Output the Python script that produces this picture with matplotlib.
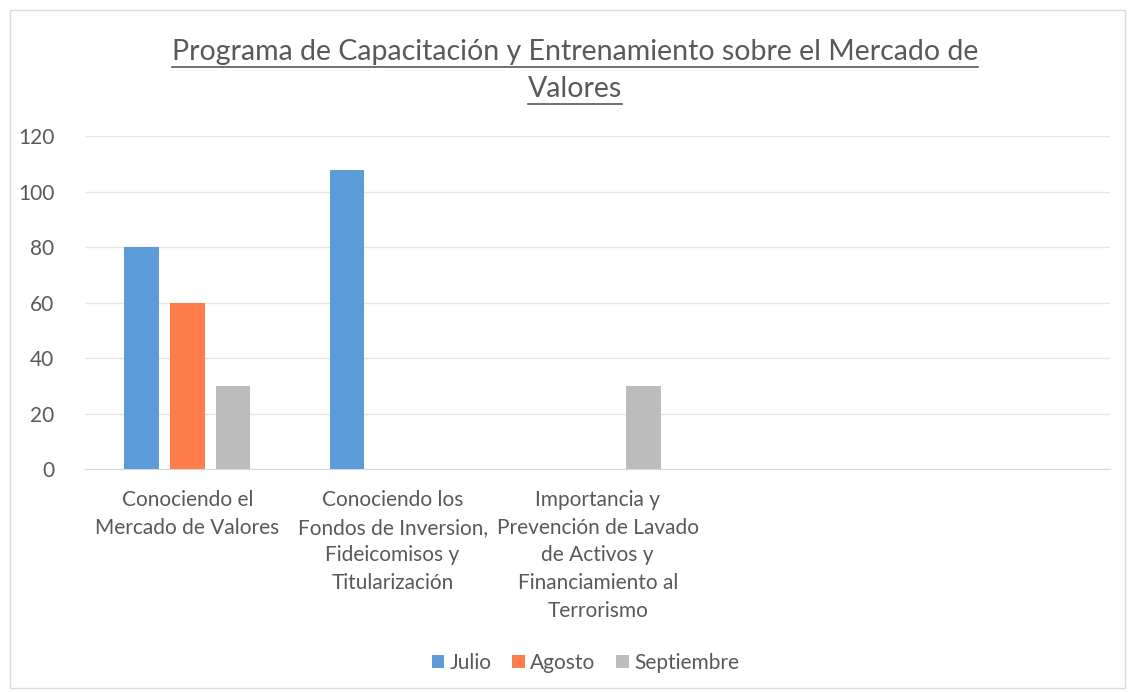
import matplotlib
matplotlib.use("Agg")
import matplotlib.pyplot as plt
import numpy as np
from matplotlib.lines import Line2D
from matplotlib.patches import Rectangle

plt.rcParams["font.family"] = ["Lato", "DejaVu Sans"]

# datos del gráfico
categorias = [
    "Conociendo el\nMercado de Valores",
    "Conociendo los\nFondos de Inversion,\nFideicomisos y\nTitularización",
    "Importancia y\nPrevención de Lavado\nde Activos y\nFinanciamiento al\nTerrorismo",
    "",
    "",
]
series = ["Julio", "Agosto", "Septiembre"]
julio = [80, 108, 0, 0, 0]
agosto = [60, 0, 0, 0, 0]
septiembre = [30, 0, 30, 0, 0]
yticks = [0, 20, 40, 60, 80, 100, 120]

colores = ["#5A9BD8", "#FF7D4D", "#BCBCBC"]
texto = "#595959"

fig = plt.figure(figsize=(11.32, 6.92), dpi=100)
ax = fig.add_axes([0.075, 0.322, 0.906, 0.481])

x = np.arange(len(categorias))
ancho = 0.17
paso = 0.222
for i, (nombre, valores) in enumerate(zip(series, [julio, agosto, septiembre])):
    ax.bar(x + (i - 1) * paso, valores, width=ancho, color=colores[i], label=nombre, zorder=3)

ax.set_xlim(-0.5, len(categorias) - 0.5)
ax.set_ylim(0, 120)
ax.set_yticks(yticks)
ax.set_xticks(x)
ax.set_xticklabels(categorias, fontsize=15, color=texto, linespacing=1.48)
ax.tick_params(axis="y", labelsize=15, labelcolor=texto, length=0, pad=22)
ax.tick_params(axis="x", length=0, pad=15)
ax.grid(axis="y", color="#E6E6E6", linewidth=1, zorder=0)
for s in ["top", "right", "left"]:
    ax.spines[s].set_visible(False)
ax.spines["bottom"].set_color("#D9D9D9")

# leyenda abajo
ax.legend(
    loc="center", bbox_to_anchor=(0.488, -0.583), ncol=3, frameon=False,
    fontsize=15, labelcolor=texto, handlelength=0.6, handleheight=0.6,
    handletextpad=0.25, columnspacing=1.0,
)

# título subrayado, dos líneas
t1 = fig.text(0.508, 0.925, "Programa de Capacitación y Entrenamiento sobre el Mercado de",
              ha="center", va="center", fontsize=20.5, color=texto)
t2 = fig.text(0.508, 0.872, "Valores", ha="center", va="center", fontsize=20.5, color=texto)
fig.canvas.draw()
inv = fig.transFigure.inverted()
for t in (t1, t2):
    bb = t.get_window_extent().transformed(inv)
    yline = bb.y0 - 0.003
    fig.add_artist(Line2D([bb.x0, bb.x1], [yline, yline], transform=fig.transFigure,
                          color=texto, linewidth=1.2))

# borde exterior
fig.add_artist(Rectangle((0.009, 0.006), 0.985, 0.98, transform=fig.transFigure,
                         fill=False, edgecolor="#DDDDDD", linewidth=1))

fig.savefig("out.png", dpi=100)
